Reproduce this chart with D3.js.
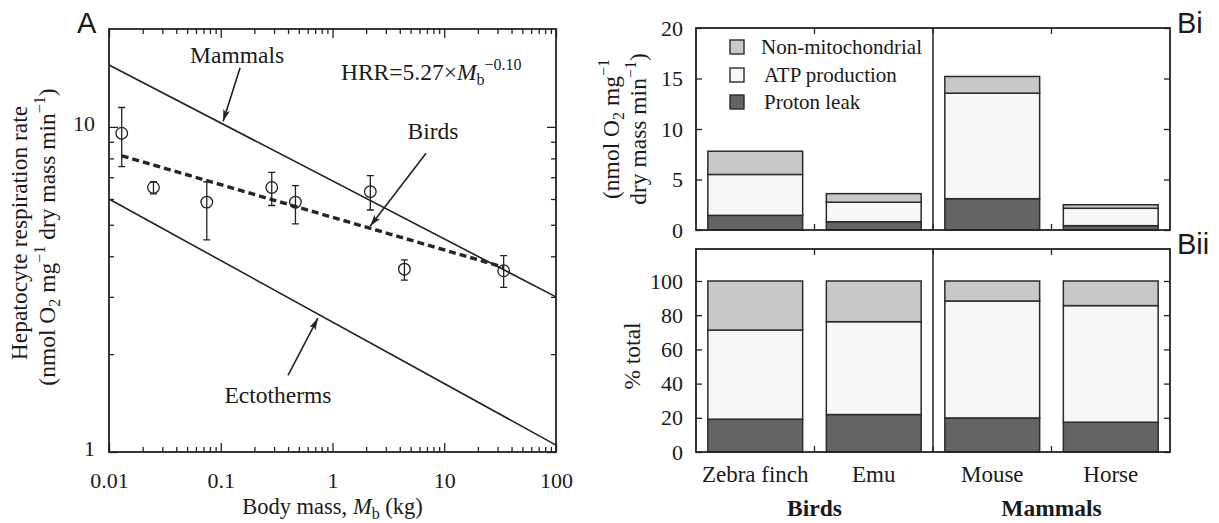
<!DOCTYPE html>
<html><head><meta charset="utf-8">
<script src="https://cdn.jsdelivr.net/npm/d3@7"></script>
<style>
body{margin:0;background:#fff}
svg{display:block}
text{font-family:"Liberation Serif","Times New Roman",serif;fill:#1a1a1a}
.sans{font-family:"Liberation Sans",Arial,sans-serif}
</style>
</head><body>
<svg id="c" width="1219" height="523"></svg>
<script>
// ---------- Panel A data ----------
const massKg   = [0.013, 0.025, 0.075, 0.286, 0.466, 2.18, 4.4, 34];
const hrr      = [9.56, 6.51, 5.87, 6.51, 5.87, 6.32, 3.65, 3.61];
const hrrHi    = [11.47, 6.78, 6.78, 7.25, 6.6, 7.08, 3.9, 4.02];
const hrrLo    = [7.55, 6.22, 4.49, 5.73, 5.03, 5.55, 3.38, 3.21];
const mammalLineX = [0.01, 100], mammalLineY = [15.5, 3.0];
const ectoLineX   = [0.01, 100], ectoLineY   = [6.0, 1.05];
const birdFitX    = [0.013, 34], birdFitY    = [8.15, 3.70];
const xTicksA = [0.01, 0.1, 1, 10, 100];
const yTicksA = [1, 10];
const xTickLabelsA = ["0.01", "0.1", "1", "10", "100"];
// annotation anchors (data units): label, arrow tail, arrow tip
const annLabels = ["Mammals", "Birds", "Ectotherms"];
const annLabelX = [0.14, 7.93, 0.325], annLabelY = [15.7, 9.19, 1.415];
const annTailX  = [0.149, 6.87, 0.40], annTailY  = [15.2, 8.3, 1.72];
const annTipX   = [0.105, 2.17, 0.74], annTipY   = [10.4, 4.95, 2.58];
const eqX = 1.19, eqY = 13.95;

// ---------- Panel B data ----------
const species = ["Zebra finch", "Emu", "Mouse", "Horse"];
const groups = ["Birds", "Mammals"];
const groupMembers = [["Zebra finch", "Emu"], ["Mouse", "Horse"]];
const components = ["Proton leak", "ATP production", "Non-mitochondrial"];
const protonLeak    = [1.45, 0.82, 3.1, 0.43];
const atpProduction = [4.05, 1.93, 10.45, 1.72];
const nonMito       = [2.3, 0.85, 1.65, 0.35];
const pctProtonLeak = [19.2, 21.9, 19.9, 17.4];
const pctAtp        = [52.1, 54.3, 68.4, 68.2];
const pctNonMito    = [28.7, 23.8, 11.7, 14.4];
const yTicksBi  = [0, 5, 10, 15, 20];
const yTicksBii = [0, 20, 40, 60, 80, 100];
const compColors = ["#646464", "#f7f7f7", "#c7c8ca"];

const svg = d3.select("#c");
const INK = "#222";
const TICKF = 22, LABF = 23.5;

// ================= PANEL A =================
const A = {l:109, r:556, t:29, b:452};
const xA = d3.scaleLog().domain([0.01, 100]).range([A.l, A.r]);
const yA = d3.scaleLog().domain([1, 20]).range([A.b, A.t]);
const gA = svg.append("g");

const minorX = [];
for (let k = -2; k < 2; k++) for (let m = 2; m <= 9; m++) minorX.push(m * Math.pow(10, k));
const minorY = [2,3,4,5,6,7,8,9];

function styleAxis(g){ g.select(".domain").remove(); g.selectAll("line").attr("stroke", INK).attr("stroke-width", 1.3); g.selectAll("text").attr("font-family","Liberation Serif").attr("font-size",TICKF).attr("fill","#1a1a1a"); }

gA.append("g").attr("transform",`translate(0,${A.b})`)
  .call(d3.axisBottom(xA).tickValues(xTicksA).tickSize(-9).tickPadding(20).tickFormat((d,i)=>xTickLabelsA[i])).call(styleAxis);
gA.append("g").attr("transform",`translate(0,${A.b})`)
  .call(d3.axisBottom(xA).tickValues(minorX).tickSize(-5).tickFormat("")).call(styleAxis);
gA.append("g").attr("transform",`translate(0,${A.t})`)
  .call(d3.axisTop(xA).tickValues(xTicksA).tickSize(-9).tickFormat("")).call(styleAxis);
gA.append("g").attr("transform",`translate(0,${A.t})`)
  .call(d3.axisTop(xA).tickValues(minorX).tickSize(-5).tickFormat("")).call(styleAxis);
const yl = gA.append("g").attr("transform",`translate(${A.l},0)`)
  .call(d3.axisLeft(yA).tickValues(yTicksA).tickSize(-9).tickPadding(14).tickFormat(d3.format("d"))).call(styleAxis);
yl.selectAll("text").attr("dy","0.18em");
gA.append("g").attr("transform",`translate(${A.l},0)`)
  .call(d3.axisLeft(yA).tickValues(minorY).tickSize(-5).tickFormat("")).call(styleAxis);
gA.append("g").attr("transform",`translate(${A.r},0)`)
  .call(d3.axisRight(yA).tickValues(yTicksA).tickSize(-9).tickFormat("")).call(styleAxis);
gA.append("g").attr("transform",`translate(${A.r},0)`)
  .call(d3.axisRight(yA).tickValues(minorY).tickSize(-5).tickFormat("")).call(styleAxis);

gA.append("rect").attr("x",A.l).attr("y",A.t).attr("width",A.r-A.l).attr("height",A.b-A.t)
  .attr("fill","none").attr("stroke",INK).attr("stroke-width",1.8);

const lineA = d3.line().x(d=>xA(d[0])).y(d=>yA(d[1]));
gA.append("path").datum(mammalLineX.map((v,i)=>[v,mammalLineY[i]])).attr("d",lineA)
  .attr("fill","none").attr("stroke",INK).attr("stroke-width",1.6);
gA.append("path").datum(ectoLineX.map((v,i)=>[v,ectoLineY[i]])).attr("d",lineA)
  .attr("fill","none").attr("stroke",INK).attr("stroke-width",1.6);
gA.append("path").datum(birdFitX.map((v,i)=>[v,birdFitY[i]])).attr("d",lineA)
  .attr("fill","none").attr("stroke","#262626").attr("stroke-width",3.4).attr("stroke-dasharray","7,4");

// error bars + points
const pts = massKg.map((m,i)=>({m, v:hrr[i], hi:hrrHi[i], lo:hrrLo[i]}));
const pg = gA.append("g").attr("stroke",INK).attr("stroke-width",1.3).attr("fill","none");
pg.selectAll(".eb").data(pts).join("path")
  .attr("d",d=>{const x=xA(d.m), y1=yA(d.hi), y2=yA(d.lo), c=3.5;
    return `M${x-c},${y1}H${x+c}M${x},${y1}V${y2}M${x-c},${y2}H${x+c}`;});
pg.selectAll("circle").data(pts).join("circle")
  .attr("cx",d=>xA(d.m)).attr("cy",d=>yA(d.v)).attr("r",5.8);

// arrows
const defs = svg.append("defs");
defs.append("marker").attr("id","ah").attr("viewBox","0 0 12 8").attr("refX",12).attr("refY",4)
  .attr("markerWidth",12).attr("markerHeight",8).attr("markerUnits","userSpaceOnUse").attr("orient","auto")
  .append("path").attr("d","M0,0.5 L12,4 L0,7.5 L3,4 Z").attr("fill",INK);
annLabels.forEach((t,i)=>{
  gA.append("line").attr("x1",xA(annTailX[i])).attr("y1",yA(annTailY[i]))
    .attr("x2",xA(annTipX[i])).attr("y2",yA(annTipY[i]))
    .attr("stroke",INK).attr("stroke-width",1.6).attr("marker-end","url(#ah)");
  gA.append("text").attr("x",xA(annLabelX[i])).attr("y",yA(annLabelY[i]))
    .attr("text-anchor","middle").attr("font-size",LABF).text(t);
});
const eq = gA.append("text").attr("x",xA(eqX)).attr("y",yA(eqY)).attr("font-size",LABF);
eq.append("tspan").text("HRR=5.27×");
eq.append("tspan").attr("font-style","italic").text("M");
eq.append("tspan").attr("font-size",16).attr("dy",5).text("b");
eq.append("tspan").attr("font-size",16).attr("dy",-15).text("−0.10");

// axis titles A
const xt = gA.append("text").attr("x",(A.l+A.r)/2).attr("y",514).attr("text-anchor","middle").attr("font-size",22.5);
xt.append("tspan").text("Body mass, ");
xt.append("tspan").attr("font-style","italic").text("M");
xt.append("tspan").attr("font-size",16).attr("dy",5).text("b");
xt.append("tspan").attr("dy",-5).text(" (kg)");

gA.append("text").attr("transform",`translate(27,233) rotate(-90)`)
  .attr("text-anchor","middle").attr("font-size",LABF).text("Hepatocyte respiration rate");
const yt2 = gA.append("text").attr("transform",`translate(55,237) rotate(-90)`)
  .attr("text-anchor","middle").attr("font-size",LABF);
function unitsSpans(t, parts){
  parts.forEach(p=>{
    const s = t.append("tspan").text(p[0]);
    if (p[1]==="sub") s.attr("font-size",16).attr("dy",5);
    if (p[1]==="sup") s.attr("font-size",16).attr("dy",-10);
    if (p[1]==="back") s.attr("dy",p[2]);
  });
}
unitsSpans(yt2, [["(nmol O"],["2","sub"],[" mg","back",-5],["−1","sup"],[" dry mass min","back",10],["−1","sup"],[")","back",10]]);

gA.append("text").attr("class","sans").attr("x",77).attr("y",33).attr("font-size",29).text("A");

// ================= PANEL B =================
const B = {l:696, r:1170};
const xB = d3.scaleBand().domain(species).range([B.l, B.r]).paddingInner(0.2).paddingOuter(0.1);
const step = xB.step();
const bounds = species.slice(1).map(s=>xB(s) - step*xB.paddingInner()/2);
const dividerAt = xB(groupMembers[1][0]) - step*xB.paddingInner()/2;

function drawBarPanel(top, bottom, domainMax, yTicks, vals, labelName){
  const y = d3.scaleLinear().domain([0, domainMax]).range([bottom, top]);
  const g = svg.append("g");
  const rows = species.map((s,i)=>({sp:s, "Proton leak":vals[0][i], "ATP production":vals[1][i], "Non-mitochondrial":vals[2][i]}));
  const stacked = d3.stack().keys(components)(rows);
  stacked.forEach((layer,li)=>{
    g.selectAll(null).data(layer).join("rect")
      .attr("x",d=>xB(d.data.sp)).attr("width",xB.bandwidth())
      .attr("y",d=>y(d[1])).attr("height",d=>y(d[0])-y(d[1]))
      .attr("fill",compColors[li]).attr("stroke","#2b2b2b").attr("stroke-width",1.5);
  });
  g.append("g").attr("transform",`translate(${B.l},0)`)
    .call(d3.axisLeft(y).tickValues(yTicks).tickSize(-6).tickPadding(13)).call(styleAxis);
  g.append("g").attr("transform",`translate(${B.r},0)`)
    .call(d3.axisRight(y).tickValues(yTicks).tickSize(-6).tickFormat("")).call(styleAxis);
  const tb = g.append("g").attr("stroke",INK).attr("stroke-width",1.3);
  bounds.forEach(bx=>{
    tb.append("line").attr("x1",bx).attr("x2",bx).attr("y1",top).attr("y2",top+6);
    tb.append("line").attr("x1",bx).attr("x2",bx).attr("y1",bottom).attr("y2",bottom-6);
  });
  g.append("line").attr("x1",dividerAt).attr("x2",dividerAt).attr("y1",top).attr("y2",bottom)
    .attr("stroke",INK).attr("stroke-width",1.5);
  g.append("rect").attr("x",B.l).attr("y",top).attr("width",B.r-B.l).attr("height",bottom-top)
    .attr("fill","none").attr("stroke",INK).attr("stroke-width",1.8);
  g.append("text").attr("class","sans").attr("x",1177).attr("y",top+5).attr("font-size",29).text(labelName);
  return {g, y};
}

drawBarPanel(28, 230, 20, yTicksBi, [protonLeak, atpProduction, nonMito], "Bi");
drawBarPanel(249, 452, 118.7, yTicksBii, [pctProtonLeak, pctAtp, pctNonMito], "Bii");

// legend in Bi
const legOrder = ["Non-mitochondrial", "ATP production", "Proton leak"];
const legY = [47, 75, 102];
legOrder.forEach((k,i)=>{
  const ci = components.indexOf(k);
  svg.append("rect").attr("x",730).attr("y",legY[i]-7).attr("width",14).attr("height",14)
    .attr("fill",compColors[ci]).attr("stroke","#2b2b2b").attr("stroke-width",1.4);
  svg.append("text").attr("x", i===0 ? 761 : 764).attr("y",legY[i]+7).attr("font-size",21).text(k);
});

// y titles B
const bt1 = svg.append("text").attr("transform",`translate(619,129) rotate(-90)`).attr("text-anchor","middle").attr("font-size",LABF);
unitsSpans(bt1, [["(nmol O"],["2","sub"],[" mg","back",-5],["−1","sup"]]);
const bt2 = svg.append("text").attr("transform",`translate(646,129) rotate(-90)`).attr("text-anchor","middle").attr("font-size",LABF);
unitsSpans(bt2, [["dry mass min"],["−1","sup"],[")","back",10]]);
svg.append("text").attr("transform",`translate(640,356) rotate(-90)`).attr("text-anchor","middle").attr("font-size",LABF).text("% total");

// category labels & group labels
svg.selectAll(".cat").data(species).join("text")
  .attr("x",d=>xB(d)+xB.bandwidth()/2).attr("y",482).attr("text-anchor","middle").attr("font-size",23).text(d=>d);
groups.forEach((gname,i)=>{
  const mem = groupMembers[i];
  const cx = (xB(mem[0]) + xB(mem[1]) + xB.bandwidth())/2;
  svg.append("text").attr("x",cx).attr("y",516).attr("text-anchor","middle").attr("font-size",23.5)
    .attr("font-weight","bold").text(gname);
});
</script>
</body></html>
